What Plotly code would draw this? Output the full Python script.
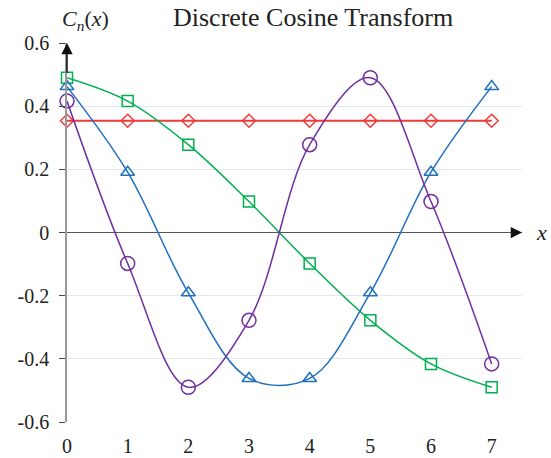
import plotly.graph_objects as go

x_vals = [0, 1, 2, 3, 4, 5, 6, 7]
c0 = [0.354, 0.354, 0.354, 0.354, 0.354, 0.354, 0.354, 0.354]
c1 = [0.490, 0.416, 0.278, 0.098, -0.098, -0.278, -0.416, -0.490]
c2 = [0.462, 0.191, -0.191, -0.462, -0.462, -0.191, 0.191, 0.462]
c3 = [0.416, -0.098, -0.490, -0.278, 0.278, 0.490, 0.098, -0.416]
y_tick_vals = [-0.6, -0.4, -0.2, 0, 0.2, 0.4, 0.6]
y_tick_text = ["-0.6", "-0.4", "-0.2", "0", "0.2", "0.4", "0.6"]
x_tick_vals = [0, 1, 2, 3, 4, 5, 6, 7]
x_tick_text = ["0", "1", "2", "3", "4", "5", "6", "7"]

FONT = "Liberation Serif"
fig = go.Figure()

def add(y, color, symbol, size, lw, shape):
    fig.add_trace(go.Scatter(
        x=x_vals, y=y, mode="lines+markers",
        line=dict(color=color, width=lw, shape=shape),
        marker=dict(symbol=symbol, size=size, color=color, line=dict(width=1.5, color=color)),
        cliponaxis=False, showlegend=False))

add(c0, "#ee3a3a", "diamond-open", 10, 2, "linear")
add(c1, "#00b050", "square-open", 11, 1.5, "spline")
add(c2, "#1f6fbf", "triangle-up-open", 12, 1.5, "spline")
add(c3, "#7030a0", "circle-open", 14, 1.5, "spline")

fig.update_layout(
    width=551, height=458,
    margin=dict(l=67, r=29, t=43, b=36, autoexpand=False),
    paper_bgcolor="white", plot_bgcolor="white",
    font=dict(family=FONT, size=20, color="#222"),
    xaxis=dict(range=[0, 7.5], tickvals=x_tick_vals, ticktext=x_tick_text,
               showgrid=False, zeroline=False, showline=False, ticks="",
               automargin=False,
               ticklabelstandoff=10, tickfont=dict(family=FONT, size=20, color="#222")),
    yaxis=dict(range=[-0.6, 0.6], tickvals=y_tick_vals, ticktext=y_tick_text,
               showgrid=True, gridcolor="#dfe7f1", gridwidth=1,
               zeroline=True, zerolinecolor="#555", zerolinewidth=1,
               showline=True, linecolor="#999", linewidth=1.5,
               ticks="outside", ticklen=6, tickcolor="#444", tickwidth=1,
               automargin=False,
               ticklabelstandoff=6, tickfont=dict(family=FONT, size=20, color="#222")),
    annotations=[
        dict(x=7.5, y=0, ax=7.3, ay=0, xref="x", yref="y", axref="x", ayref="y",
             text="", showarrow=True, arrowhead=2, arrowsize=1.5, arrowwidth=1.5,
             arrowcolor="#111"),
        dict(x=0, y=0.6, ax=0, ay=0.5, xref="x", yref="y", axref="x", ayref="y",
             text="", showarrow=True, arrowhead=2, arrowsize=1.5, arrowwidth=1.5,
             arrowcolor="#111"),
        dict(x=7.5, y=0, xref="x", yref="y", xanchor="left", yanchor="middle",
             xshift=12, text="<i>x</i>", showarrow=False,
             font=dict(family=FONT, size=22, color="#222")),
        dict(x=0.04, y=1.062, xref="paper", yref="paper", xanchor="center", yanchor="middle",
             text="<i>C</i><sub><i>n</i></sub>(<i>x</i>)", showarrow=False,
             font=dict(family=FONT, size=22, color="#222")),
        dict(x=0.54, y=1.068, xref="paper", yref="paper", xanchor="center", yanchor="middle",
             text="Discrete Cosine Transform", showarrow=False,
             font=dict(family=FONT, size=26, color="#222")),
    ],
)

fig.write_html("out.html", config={"displayModeBar": False},
               post_script="document.body.style.margin='0';document.body.style.padding='0';")
